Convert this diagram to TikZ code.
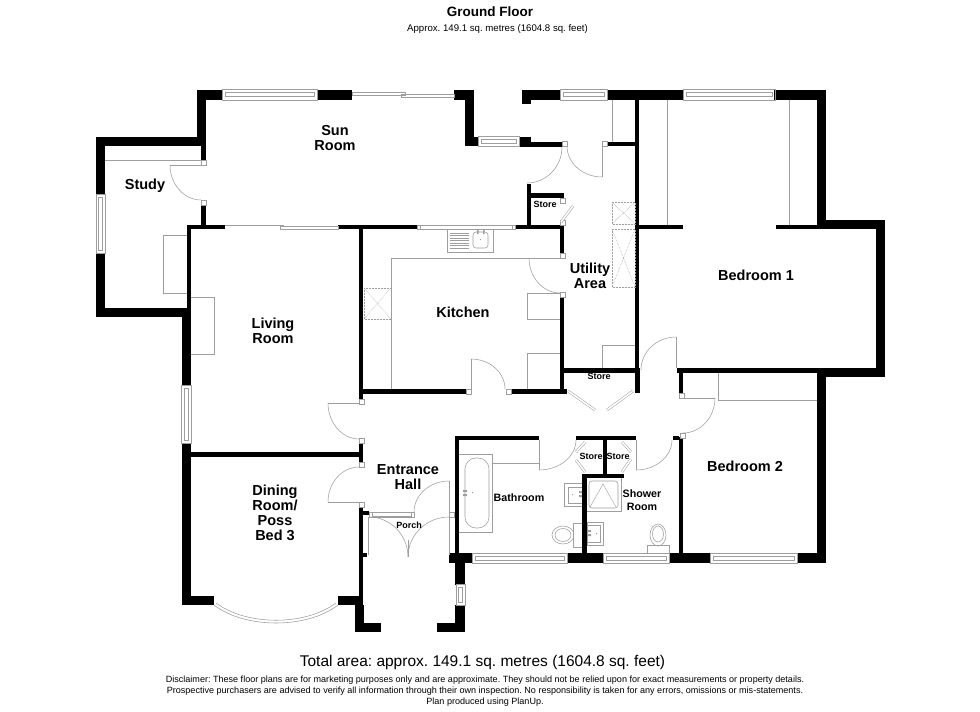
\documentclass[tikz,border=0pt]{standalone}
\usepackage{fontspec}
\setmainfont{Liberation Sans}
\usetikzlibrary{calc}

\definecolor{fitgray}{gray}{0.62}

\tikzset{
  wall/.style={fill=black},
  fitting/.style={draw=fitgray, line width=0.55pt},
  dashbox/.style={draw=fitgray, line width=0.5pt, densely dotted},
  jamb/.style={draw=fitgray, fill=white, line width=0.5pt},
  room/.style={font=\bfseries\fontsize{14.5}{15}\selectfont, align=center, inner sep=0pt},
  smallroom/.style={font=\bfseries\fontsize{9}{10}\selectfont, align=center, inner sep=0pt},
  smallroomb/.style={font=\bfseries\fontsize{10.7}{12.5}\selectfont, align=center, inner sep=0pt},
}

% door swing: from, to, corner
\newcommand{\swing}[3]{\draw[fitting] (#1) .. controls ($(#1)!0.55!(#3)$) and ($(#2)!0.55!(#3)$) .. (#2);}
% slanted store door leaf
\newcommand{\leaf}[2]{\draw[fitting, double=white, double distance=1.6pt, line width=0.5pt] (#1) -- (#2);}

\begin{document}
\frenchspacing
\begin{tikzpicture}[x=1pt, y=-1pt]
\useasboundingbox (0,0) rectangle (980,712);
\fill[white] (0,0) rectangle (980,712);

% walls
\foreach \xa/\ya/\xb/\yb in {
  197/90/222/100, 197/90/206/146, 96/137/206/146, 96/137/105/194, 96/253/105/317, 96/308/191/317,
  201/146/206/160, 201/205/206/229, 187/225/225/229, 187/225/191/317,
  317/90/352/100, 454/90/474/100, 465/90/474/146, 465/137/478/146, 519/137/531/147, 531/142/562/146.5,
  522/90/560/100, 522/90/531/104, 607/90/683/100, 774/90/826/100, 817/90/826/229, 817/220/885/229,
  876/220/885/377, 817/368/885/377, 677/368/817/373, 817/368/826/563,
  635/100/639/368, 635/368/640/393, 607/142/635/146,
  338/225/417/229, 515/225/564/229, 639/225/683/229, 776/225/817/229,
  527/184/531/225, 527/193/564/198,
  560/225/564/253, 560/297/564/394, 564/368/640/373,
  359/229/363/399, 363/389/466/394, 511/389/567/394,
  182/317/191/385, 182/443/191/605, 182/596/214/605, 338/596/363/605,
  191/452/363/457, 359/443/363/462, 359/507/363/605, 359/553/367/557, 363/511/369/515,
  355/605/364/632, 355/623/381/632, 437/623/465/632,
  455/563/465/585, 455/605/465/632,
  449/553/472/563, 567/553/603/563, 669/553/710/563, 797/553/826/563,
  455/436/459/553, 455/436/539/440, 576/436/636/440, 603/440/607/478,
  582/474/624/478, 582/474/587/553,
  679/368/683/393, 679/437/683/553, 673/436/679/440}
  \fill[wall] (\xa,\ya) rectangle (\xb,\yb);

% door jambs
\foreach \x/\y in {
  201/160, 201/200, 359/399, 359/438, 359/462, 359/502, 466/389, 506/389,
  560/253, 560/292, 560/198, 560/220, 562/141, 602/141, 679/393, 680/433, 449/512}
  \draw[jamb] (\x,\y) rectangle ++(5,5);

% windows
\foreach \xa/\xb/\ya/\yb in {
  222/317/89/100, 478/519/136/146, 560/607/89/100, 683/775/89/100, 417/515/225/229,
  472/567/553/563, 603/669/553/563, 710/797/553/563, 369/414/512/517}
{
  \draw[fitting] (\xa,\ya) rectangle (\xb,\yb);
  \draw[fitting, line width=0.4pt] (\xa+3,\ya*0.5+\yb*0.5-2) rectangle (\xb-3,\ya*0.5+\yb*0.5+2);
}
\foreach \xa/\xb/\ya/\yb in {96/105/194/253, 181/191/385/443, 456/465/584/605}
{
  \draw[fitting] (\xa,\ya) rectangle (\xb,\yb);
  \draw[fitting, line width=0.4pt] (\xa*0.5+\xb*0.5-2,\ya+3) rectangle (\xa*0.5+\xb*0.5+2,\yb-3);
}

% sliding doors
\draw[fitting] (352,92) rectangle (405,95) (401,94) rectangle (454,97);
\draw[fitting] (225,225) -- (283,225) -- (283,227) (280,226) rectangle (338,229);

% bay window
\draw[fitting] (214,605) .. controls (245,629) and (307,629) .. (338,605);
\draw[fitting] (216,603) .. controls (247,626) and (305,626) .. (336,603);

% door leaves and swings
\draw[fitting] (170,165) -- (201,165);
\swing{170,165}{201,200}{170,200}
\draw[fitting] (328,403) -- (359,403);
\swing{328,403}{359,439}{328,439}
\draw[fitting] (328,502) -- (359,502);
\swing{359,467}{328,502}{328,467}
\draw[fitting] (449,481) -- (449,555);
\swing{449,481}{414,512}{414,481}
\draw[fitting] (368,517) -- (368,555) (408,540) -- (408,557);
\swing{369,517}{408,557}{408,517}
\swing{449,517}{408,557}{408,517}
\draw[fitting] (471,359) -- (471,389);
\swing{471,359}{505,389}{505,359}
\draw[fitting] (529,258) -- (560,258);
\swing{529,258}{560,293}{529,293}
\swing{562,147}{527,183}{562,183}
\draw[fitting] (602,146) -- (602,177);
\swing{567,146}{602,177}{567,177}
\draw[fitting] (676,337) -- (676,368);
\swing{676,337}{641,370}{641,337}
\draw[fitting] (683,398) -- (715,398);
\swing{715,398}{683,433}{715,433}
\draw[fitting] (539,440) -- (539,470);
\swing{539,470}{576,440}{576,470}
\draw[fitting] (636,440) -- (636,470);
\swing{636,470}{672,440}{672,470}

% store door leaves
\leaf{561,222}{573,206}
\leaf{568,391}{595,410}
\leaf{633,391}{607,410}
\leaf{585,442}{576,452}
\leaf{576,460}{585,472}
\leaf{622,442}{631,452}
\leaf{631,459}{622,472}

% wardrobes, units, worktops
\draw[fitting] (105,160) -- (201,160);
\draw[fitting] (187,235) -- (163,235) -- (163,293) -- (187,293);
\draw[fitting] (191,297) -- (214,297) -- (214,354) -- (191,354);
\draw[fitting] (612,100) -- (612,142);
\draw[fitting] (667,100) -- (667,225) (789,100) -- (789,225);
\draw[fitting] (718,373) -- (718,400) -- (817,400);
\draw[fitting] (391,389) -- (391,258) -- (529,258);
\draw[fitting] (560,293) -- (527,293) -- (527,319) -- (560,319);
\draw[fitting] (527,389) -- (527,353) -- (560,353);
\draw[fitting] (635,345) -- (602,345) -- (602,368);

% appliances with a cross
\foreach \xa/\ya/\xb/\yb in {364/288/391/319, 612/202/635/224, 612/229/635/287}
{
  \draw[dashbox] (\xa,\ya) rectangle (\xb,\yb);
  \draw[dashbox] (\xa,\ya) -- (\xb,\yb) (\xa,\yb) -- (\xb,\ya);
}

% kitchen sink
\draw[fitting] (447,229) rectangle (493,252);
\foreach \y in {233,235.5,...,248}
  \draw[fitting, line width=0.4pt] (450,\y) -- (469,\y);
\draw[fitting, rounded corners=3pt] (473,232) rectangle (488,248);
\fill[fitgray] (477,230) rectangle (478.5,234) (483,230) rectangle (484.5,234) (480,239) rectangle (481,240);

% bathroom
\draw[fitting] (492,463) -- (539,463);
\draw[fitting] (459,454) -- (492,454) -- (492,532) -- (459,532);
\draw[fitting, rounded corners=11pt] (465,458) rectangle (489,528);
\fill[fitgray] (463,490) rectangle (467,492) (463,494) rectangle (467,496) (472,492) rectangle (473,493);
\draw[fitting] (582,483) -- (564,483) -- (564,506) -- (582,506);
\draw[fitting] (582,487) -- (568,487) -- (568,503) -- (582,503);
\fill[fitgray] (579,491) rectangle (582,493) (579,495) rectangle (582,497) (572,494) rectangle (573,495);
\draw[fitting] (563,535) ellipse (11 and 9);
\draw[fitting] (563,535) ellipse (8 and 6.5);
\draw[fitting, fill=white] (582,523) -- (573,523) -- (573,547) -- (582,547);

% shower room
\draw[fitting] (603,522) -- (587,522) -- (587,545) -- (603,545) -- cycle;
\draw[fitting] (587,525) -- (600,525) -- (600,542) -- (587,542);
\fill[fitgray] (587,530) rectangle (591,532) (587,534) rectangle (591,536) (596,533) rectangle (597,534);
\draw[fitting] (587,511) -- (621,511) -- (621,478);
\draw[fitting, rounded corners=3pt] (589,481) rectangle (618,508);
\draw[fitting, line width=0.4pt] (590,507) -- (603,484) -- (616,507);
\draw[fitting] (658,535) ellipse (8 and 11);
\draw[fitting] (658,534) ellipse (5.5 and 8);
\draw[fitting] (647,553) -- (647,545) -- (669,545) -- (669,553);

% labels
\node[room] (sunroom) at (335,138) {Sun\\Room};
\node[room] (study) at (145,186) {Study};
\node[room] (livingroom) at (273,331) {Living\\Room};
\node[room] (kitchen) at (463,312) {Kitchen};
\node[room] (utilityarea) at (590,276) {Utility\\Area};
\node[room] (bedroom1) at (756,275) {Bedroom 1};
\node[room] (bedroom2) at (745,466) {Bedroom 2};
\node[room] (entrancehall) at (408,477) {Entrance\\Hall};
\node[room] (diningroom) at (275,513) {Dining\\Room/\\Poss\\Bed 3};
\node[smallroomb] (bathroom) at (519,498) {Bathroom};
\node[smallroomb] (showerroom) at (642,500) {Shower\\Room};
\node[smallroom] (porch) at (409,525) {Porch};
\node[smallroom] (store1) at (545,204) {Store};
\node[smallroom] (store2) at (599,376) {Store};
\node[smallroom] (store3) at (591,456) {Store};
\node[smallroom] (store4) at (618,456) {Store};

\node[font=\bfseries\fontsize{13.5}{15}\selectfont, inner sep=0pt] (title) at (490,12) {Ground Floor};
\node[font=\fontsize{9.65}{11}\selectfont, inner sep=0pt] (subtitle) at (497.5,29) {Approx. 149.1 sq. metres (1604.8 sq. feet)};
\node[font=\fontsize{15.5}{16}\selectfont, inner sep=0pt] (total) at (482.5,662) {Total area: approx. 149.1 sq. metres (1604.8 sq. feet)};
\node[font=\fontsize{9.05}{10.9}\selectfont, align=center, inner sep=0pt] (disclaimer) at (485,691.5)
  {Disclaimer: These floor plans are for marketing purposes only and are approximate. They should not be relied upon for exact measurements or property details.\\
   Prospective purchasers are advised to verify all information through their own inspection. No responsibility is taken for any errors, omissions or mis-statements.\\
   Plan produced using PlanUp.};
\end{tikzpicture}
\end{document}
